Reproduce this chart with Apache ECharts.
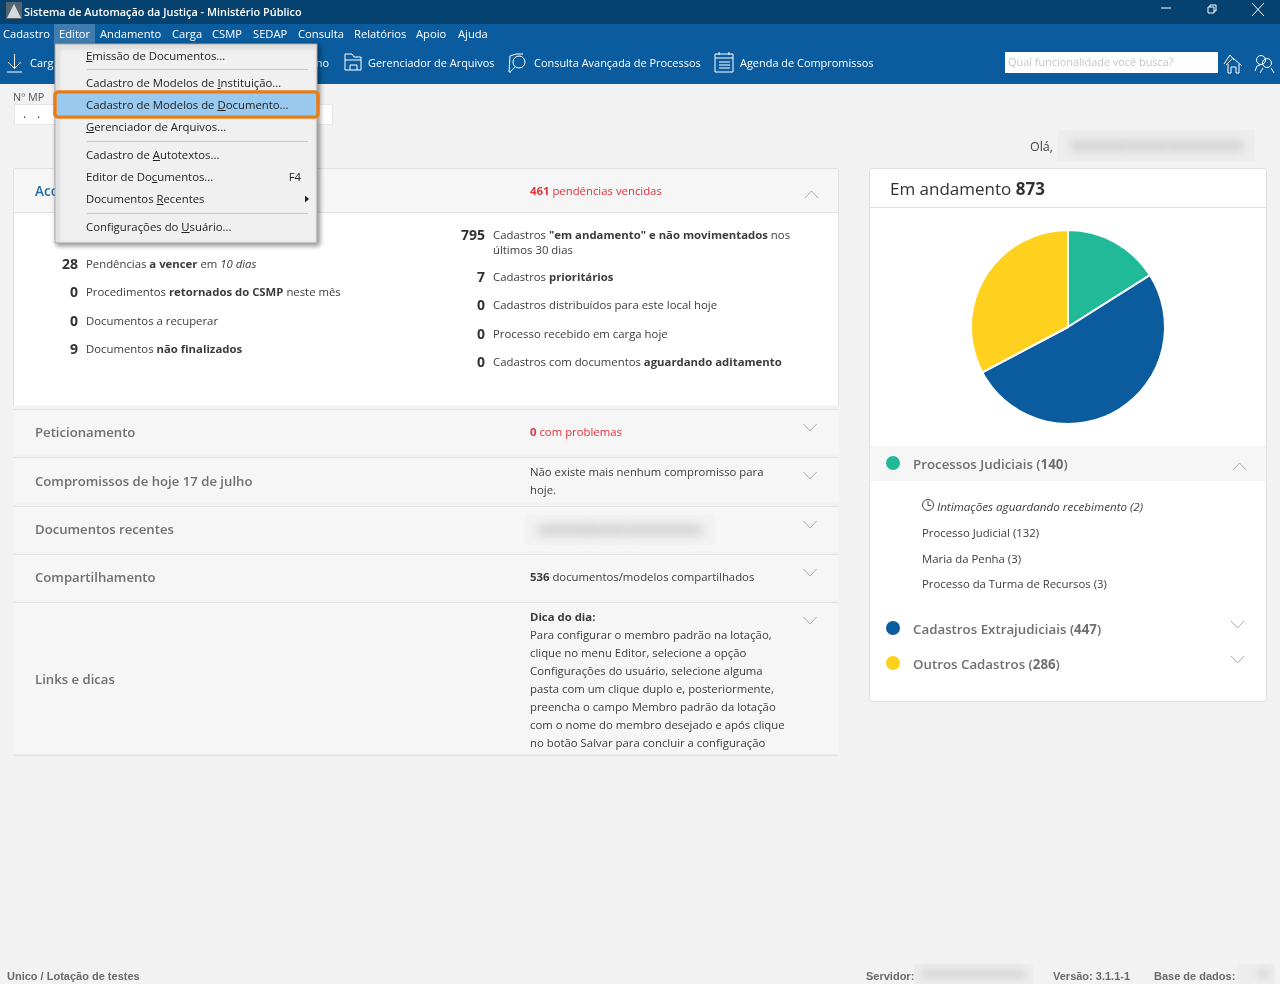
<!DOCTYPE html>
<html><head><meta charset="utf-8">
<style>html,body{margin:0;padding:0;background:#f2f2f2}#c{width:1280px;height:984px}</style>
<script src="https://cdn.jsdelivr.net/npm/echarts@6/dist/echarts.min.js"></script>
</head><body><div id="c"></div>
<script>
const pieCategories = ['Processos Judiciais','Cadastros Extrajudiciais','Outros Cadastros'];
const pieValues = [140,447,286];
const pieColors = ['#20BA99','#0B5C9E','#FFD11F'];
const totalLabel = 'Em andamento';
const totalValue = 873;
const titleText = 'Sistema de Automação da Justiça - Ministério Público';
const menuBar = ['Cadastro','Editor','Andamento','Carga','CSMP','SEDAP','Consulta','Relatórios','Apoio','Ajuda'];
const editorMenu = ['Emissão de Documentos...','Cadastro de Modelos de Instituição...','Cadastro de Modelos de Documento...','Gerenciador de Arquivos...','Cadastro de Autotextos...','Editor de Documentos...','Documentos Recentes','Configurações do Usuário...'];
const editorMnemonic = [0,23,23,0,12,12,11,17];
const subItems = ['Processo Judicial (132)','Maria da Penha (3)','Processo da Turma de Recursos (3)'];
const tipLines = ['Para configurar o membro padrão na lotação,','clique no menu Editor, selecione a opção','Configurações do usuário, selecione alguma','pasta com um clique duplo e, posteriormente,','preencha o campo Membro padrão da lotação','com o nome do membro desejado e após clique','no botão Salvar para concluir a configuração'];

const F='"Open Sans"', FS=11.35;
const g=[];
const Z=1;
function rect(x,y,w,h,fill,o={}){g.push({type:'rect',z:Z,shape:{x,y,width:w,height:h,r:o.r||0},style:{fill,stroke:o.stroke||null,lineWidth:o.lw||1,shadowBlur:o.blur||0,shadowColor:o.sc||'transparent',shadowOffsetX:o.sx||0,shadowOffsetY:o.sy||0}});}
function line(pts,color,lw=1){g.push({type:'polyline',z:Z,shape:{points:pts},style:{stroke:color,lineWidth:lw,fill:null}});}
function circle(cx,cy,r,fill,stroke,lw=1){g.push({type:'circle',z:Z,shape:{cx,cy,r},style:{fill:fill||null,stroke:stroke||null,lineWidth:lw}});}
function t(x,y,text,o={}){g.push({type:'text',z:Z,x,y:y+2,style:{text,fill:o.c||'#3c3c3c',font:`${o.st||'normal'} ${o.w||'normal'} ${o.s||FS}px ${o.f||F}`,align:o.a||'left',verticalAlign:'middle'}});}
function r(x,y,text,o={}){const s=o.s||FS,c=o.c||'#3c3c3c',f=o.f||F;g.push({type:'text',z:Z,x,y:y+2,style:{text,align:o.a||'left',verticalAlign:'middle',fill:c,font:`${s}px ${f}`,rich:{n:{fill:c,fontSize:s,fontFamily:f,fontWeight:o.nw||'normal'},b:{fill:c,fontSize:s,fontFamily:f,fontWeight:'bold'},i:{fill:c,fontSize:o.is||s,fontFamily:f,fontStyle:'italic'}}}});}
function chevDown(x,y,c='#a8a8a8'){line([[x,y],[x+6.5,y+7],[x+13,y]],c,1);}
function chevUp(x,y,c='#a8a8a8'){line([[x,y+7],[x+6.5,y],[x+13,y+7]],c,1);}
/* soft smudge: the shape sits off-canvas and only its blurred shadow lands on the page */
function smudge(x,y,w,h,col,b){rect(x-3000,y,w,h,col,{blur:b,sc:col,sx:3000,r:h/2});}
function blurBox(x,y,w,h,bg,segs,b=10){rect(x,y,w,h,bg);segs.forEach(s=>smudge(x+s[0],y+h/2-s[2]/2,s[1],s[2],'#d4d4d4',b));}

/* page chrome */
rect(0,0,1280,984,'#F2F2F2');
rect(0,0,1280,24,'#05426F');
rect(0,24,1280,60,'#0B5C9E');
rect(6,2,16,17,'#56646f');
g.push({type:'polygon',z:Z,shape:{points:[[14,4],[21,18],[7,18]]},style:{fill:'#d5dade'}});
t(24,11,titleText,{c:'#fff',w:600,s:10.9});
line([[1161,8],[1171,8]],'#fff');
line([[1208,7],[1214,7],[1214,13],[1208,13],[1208,7]],'#fff');line([[1210,7],[1210,5],[1216,5],[1216,11],[1214,11]],'#fff');
line([[1252,3],[1264,16]],'#fff');line([[1264,3],[1252,16]],'#fff');

rect(54,24,41,20,'#3F7DB0');
const menuX=[3,59,100,172,212,253,298,354,416,458];
menuBar.forEach((m,i)=>t(menuX[i],33,m,{c:'#fff',s:11.2}));

/* toolbar */
line([[14.5,54],[14.5,68]],'#fff');line([[8,62],[14.5,68.5],[21,62]],'#fff');line([[7,72],[22,72]],'#fff');
t(30,62,'Carg',{c:'#fff',s:10.95});
t(329,62,'no',{c:'#fff',s:10.95,a:'right'});
line([[345,70],[345,54],[352,54],[354,57],[361,57],[361,70],[345,70]],'#fff');line([[345,60],[361,60]],'#fff');line([[350,70],[350,65],[357,65],[357,70]],'#fff');
t(368,62,'Gerenciador de Arquivos',{c:'#fff',s:10.95});
line([[511,72],[509,72],[510,56],[516,54],[523,54]],'#fff');circle(519,62,6,null,'#fff');line([[515,67],[510,72]],'#fff');
t(534,62,'Consulta Avançada de Processos',{c:'#fff',s:10.95});
rect(715,54,18,18,null,{stroke:'#fff'});line([[715,58],[733,58]],'#fff');line([[719,52],[719,55]],'#fff');line([[729,52],[729,55]],'#fff');
[62,65,68].forEach(y=>line([[719,y],[730,y]],'#fff'));
t(740,62,'Agenda de Compromissos',{c:'#fff',s:10.95});
rect(1005,52,213,21,'#fff');
t(1008,61,'Qual funcionalidade você busca?',{c:'#c6c6c6',s:10.9});
line([[1224,64],[1230,55],[1234,60]],'#fff');line([[1226,65],[1233,58],[1242,66]],'#fff');line([[1228,64],[1228,73],[1231,73],[1231,67],[1236,67],[1236,73],[1239,73],[1239,64]],'#fff');
circle(1261,60,4.5,null,'#fff');line([[1255,71],[1257,66],[1260,65]],'#fff');circle(1267,63,4.5,null,'#fff');line([[1260,73],[1263,68]],'#fff');line([[1271,68],[1274,73]],'#fff');

/* MP field */
t(13,96,'Nº MP',{s:10.8,c:'#555'});
rect(14.5,104.5,318,20,'#fff',{stroke:'#e6e6e6'});
t(23,113,'.',{s:12,c:'#333'});t(37,113,'.',{s:12,c:'#333'});

t(1053,145,'Olá,',{a:'right',s:12.5,c:'#444'});
blurBox(1058,130,197,31,'#ededed',[[12,58,11],[66,46,11],[108,78,11]]);

/* left panel */
rect(13.5,168.5,825,237,'#fff',{r:3});
line([[13.5,405],[13.5,170],[15,168.5],[837,168.5],[838.5,170],[838.5,405]],'#e0e0e0');
rect(14,169,824,43,'#F6F6F6',{r:3});
line([[14,212.5],[838,212.5]],'#e2e2e2');
t(35,190,'Aco',{s:13.5,c:'#1F6AA8',w:600});
r(530,190,'{b|461}{n| pendências vencidas}',{c:'#E0323C'});
chevUp(805,191);

const leftRows=[[263,'28','{n|Pendências }{b|a vencer}{n| em }{i|10 dias}'],[291,'0','{n|Procedimentos }{b|retornados do CSMP}{n| neste mês}'],[320,'0','{n|Documentos a recuperar}'],[348,'9','{n|Documentos }{b|não finalizados}']];
leftRows.forEach(a=>{t(78,a[0],a[1],{a:'right',w:'bold',s:14,c:'#333'});r(86,a[0],a[2]);});
const rightRows=[[234,'795','{n|Cadastros }{b|"em andamento" e não movimentados}{n| nos}'],[276,'7','{n|Cadastros }{b|prioritários}'],[304,'0','{n|Cadastros distribuídos para este local hoje}'],[333,'0','{n|Processo recebido em carga hoje}'],[361,'0','{n|Cadastros com documentos }{b|aguardando aditamento}']];
rightRows.forEach(a=>{t(485,a[0],a[1],{a:'right',w:'bold',s:14,c:'#333'});r(493,a[0],a[2]);});
t(493,249,'últimos 30 dias');

const sec=[[409,45,'Peticionamento',431],[457,45,'Compromissos de hoje 17 de julho',480],[506,45,'Documentos recentes',528],[554,45,'Compartilhamento',576],[602,153,'Links e dicas',678]];
const chevY=[424,472,521,569,617];
sec.forEach((s,i)=>{
 rect(13.5,s[0]+.5,825,s[1],'#F6F6F6',{r:i==4?3:0});
 line([[13.5,s[0]+.5],[838.5,s[0]+.5]],'#e2e2e2');
 t(35,s[3],s[2],{s:13.15,w:600,c:'#6f6f6f'});
 chevDown(803.5,chevY[i],'#a8a8a8');
});
rect(13.5,754.5,825,1.5,'#e2e2e2',{r:1});
r(530,431,'{b|0}{n| com problemas}',{c:'#E0323C'});
t(530,471,'Não existe mais nenhum compromisso para');t(530,489,'hoje.');
blurBox(525,515,190,30,'#f2f2f2',[[12,54,11],[60,44,11],[100,78,11]]);
r(530,576,'{b|536}{n| documentos/modelos compartilhados}');
t(530,616,'Dica do dia:',{w:'bold'});
tipLines.forEach((l,i)=>t(530,634+18*i,l));

/* right panel */
rect(869.5,168.5,397,533,'#fff',{stroke:'#e0e0e0',r:3});
line([[870,207.5],[1266,207.5]],'#e2e2e2');
r(890,188,`{n|${totalLabel} }{b|${totalValue}}`,{s:17,c:'#333'});
rect(870,446,396,35,'#F6F6F6');
const legendY=[463,628,663];
pieCategories.forEach((n,i)=>{
 circle(893,legendY[i],7,pieColors[i]);
 r(913,legendY[i],`{n|${n} (}{b|${pieValues[i]}}{n|)}`,{s:13.3,c:'#6f6f6f',nw:600});
});
chevUp(1233,463);chevDown(1231,621);chevDown(1231,656);
circle(928,505,5.5,null,'#444');line([[928,501],[928,505.5],[931,505.5]],'#444');
r(937,506,'{i|Intimações aguardando recebimento (2)}',{is:11.65});
[532,558,583].forEach((y,i)=>t(922,y,subItems[i]));

/* footer */
const FF='"Liberation Sans"';
t(7,975,'Unico / Lotação de testes',{f:FF,w:'bold',s:11,c:'#6b6b6b'});
t(866,975,'Servidor:',{f:FF,w:'bold',s:11,c:'#6b6b6b'});
blurBox(914,964,119,20,'#ededed',[[6,106,8]],8);
t(1053,975,'Versão: 3.1.1-1',{f:FF,w:'bold',s:11,c:'#6b6b6b'});
t(1154,975,'Base de dados:',{f:FF,w:'bold',s:11,c:'#6b6b6b'});
blurBox(1237,964,38,20,'#ededed',[[20,12,8]],8);

/* dropdown menu (on top) */
rect(55,44,262,199,'#F0F0F0',{stroke:'#a9a9a9',blur:5,sc:'rgba(0,0,0,.45)',sx:2,sy:2});
[69.5,141.5,213.5].forEach(y=>line([[87,y],[308,y]],'#c9c9c9'));
rect(57,94,259,21,'#99C9EF');
rect(55,92,263,25,null,{stroke:'#E57C1B',lw:3.5,r:3});
const menuY=[55,82,104,126,154,176,198,226];
const mc=document.createElement('canvas').getContext('2d');
mc.font=`${FS}px ${F}`;
editorMenu.forEach((m,i)=>{
 t(86,menuY[i],m,{c:'#222'});
 const k=editorMnemonic[i];
 const a=86+mc.measureText(m.slice(0,k)).width,b=86+mc.measureText(m.slice(0,k+1)).width;
 line([[a,menuY[i]+6.5],[b,menuY[i]+6.5]],'#222');
});
t(301,176,'F4',{a:'right',c:'#222'});
g.push({type:'polygon',z:Z,shape:{points:[[305,195.5],[309,199],[305,202.5]]},style:{fill:'#222'}});

const chart=echarts.init(document.getElementById('c'),null,{renderer:'canvas'});
chart.setOption({
 animation:false,
 backgroundColor:'#F2F2F2',
 tooltip:{show:false},
 graphic:{elements:g},
 series:[{type:'pie',z:5,center:[1068,327],radius:[0,97],startAngle:90,clockwise:true,silent:true,
  label:{show:false},labelLine:{show:false},
  itemStyle:{borderColor:'#fff',borderWidth:2},
  data:pieCategories.map((n,i)=>({name:n,value:pieValues[i],itemStyle:{color:pieColors[i]}}))}]
});
</script></body></html>
